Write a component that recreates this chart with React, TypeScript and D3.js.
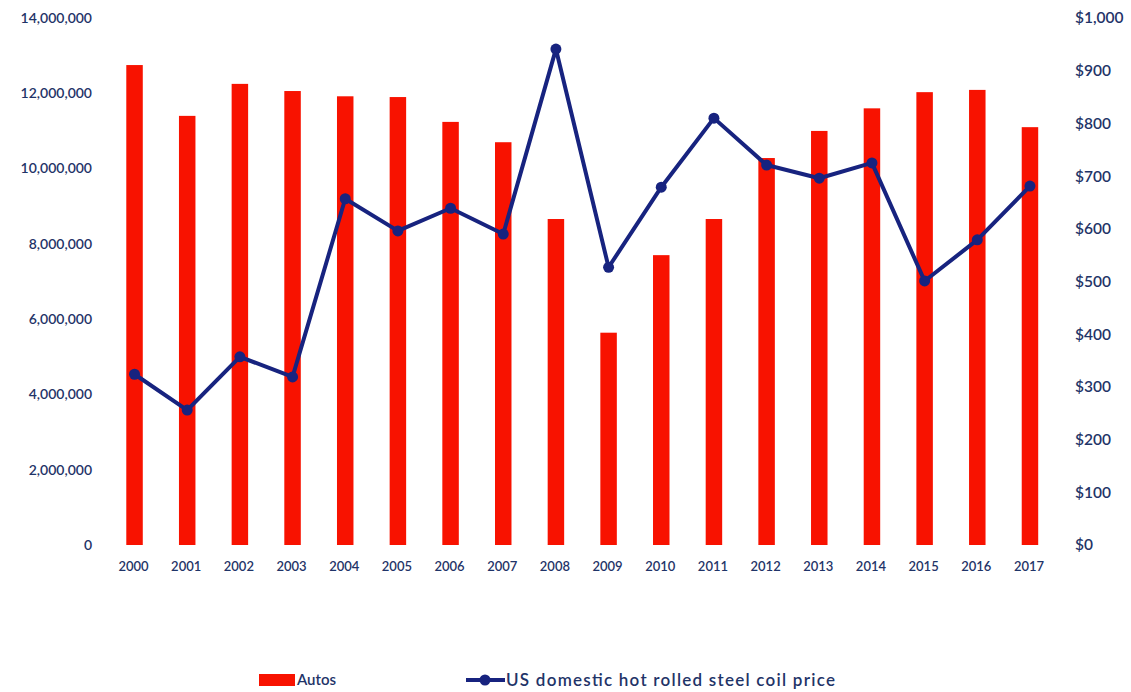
import React from "react";
import * as d3 from "d3";

const years = ["2000","2001","2002","2003","2004","2005","2006","2007","2008","2009","2010","2011","2012","2013","2014","2015","2016","2017"];
const autos = [12750000,11400000,12250000,12060000,11920000,11900000,11240000,10700000,8660000,5640000,7700000,8660000,10280000,11000000,11600000,12030000,12090000,11100000];
const steelPrice = [324,256,357,319,657,596,639,590,941,527,679,810,721,696,725,501,579,681];
const leftTicks = [0,2000000,4000000,6000000,8000000,10000000,12000000,14000000];
const rightTicks = [0,100,200,300,400,500,600,700,800,900,1000];

const W = 1131, H = 692;
const top = 18, bottom = 545;
const textColor = "#1f3468";
const red = "#f81200";
const navy = "#17237f";
const font = "Lato, 'Open Sans', sans-serif";

export default function App() {
  const x = d3.scaleBand<string>().domain(years).range([108.2, 1056.3]).paddingInner(0.687).paddingOuter(0.3435);
  const yL = d3.scaleLinear().domain([0, 14000000]).range([bottom, top]);
  const yR = d3.scaleLinear().domain([0, 1000]).range([bottom, top]);
  const cx = (y: string) => (x(y) as number) + x.bandwidth() / 2;
  const line = d3.line<number>().x((_, i) => cx(years[i])).y(d => yR(d));
  const fmt = d3.format(",");
  return (
    <svg width={W} height={H} style={{ position: "absolute", left: 0, top: 0, background: "#fff" }} fontFamily={font}>
      {leftTicks.map(t => (
        <text key={"l" + t} x={92} y={yL(t)} dy="0.35em" textAnchor="end" fontSize={14} fontWeight={600} fill={textColor}>{fmt(t)}</text>
      ))}
      {rightTicks.map(t => (
        <text key={"r" + t} x={1075} y={yR(t)} dy="0.35em" textAnchor="start" fontSize={15.5} fontWeight={600} fill={textColor}>{"$" + fmt(t)}</text>
      ))}
      {years.map((yr, i) => (
        <rect key={"b" + yr} x={x(yr)} y={yL(autos[i])} width={x.bandwidth()} height={bottom - yL(autos[i])} fill={red} />
      ))}
      {years.map(yr => (
        <text key={"t" + yr} x={cx(yr) - 1} y={566} dy="0.35em" textAnchor="middle" fontSize={13} fontWeight={600} fill={textColor}>{yr}</text>
      ))}
      <path d={line(steelPrice) || ""} fill="none" stroke={navy} strokeWidth={4} strokeLinejoin="round" />
      {steelPrice.map((v, i) => (
        <circle key={"c" + i} cx={cx(years[i])} cy={yR(v)} r={5.5} fill={navy} />
      ))}
      <rect x={259} y={674} width={36} height={12} fill={red} />
      <text x={297} y={680} dy="0.35em" fontSize={15} fontWeight={600} fill={textColor}>Autos</text>
      <line x1={466} x2={505} y1={680} y2={680} stroke={navy} strokeWidth={4} />
      <circle cx={485} cy={680} r={5.5} fill={navy} />
      <text x={506} y={680} dy="0.35em" fontSize={17} fontWeight={600} fill={textColor} textLength={329} lengthAdjust="spacing">US domestic hot rolled steel coil price</text>
    </svg>
  );
}
